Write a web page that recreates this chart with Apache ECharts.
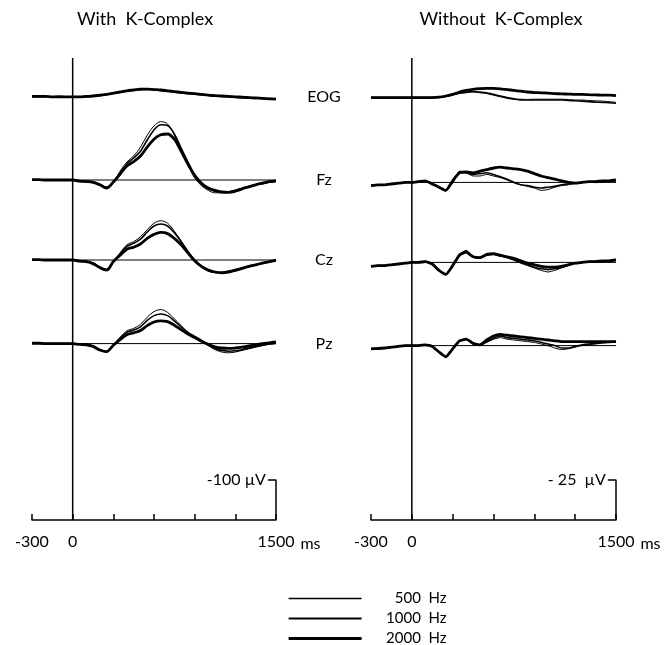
<!DOCTYPE html>
<html>
<head>
<meta charset="utf-8">
<script src="https://cdn.jsdelivr.net/npm/echarts@6/dist/echarts.min.js"></script>
<style>
  html, body { margin: 0; background: #fff; }
  #root { width: 669px; height: 645px; }
</style>
</head>
<body>
<div id="root"></div>
<script>
// time points, ms
const times = [-300, -250, -200, -150, -100, -50, 0, 50, 100, 150, 200, 250, 300, 350, 400, 450,
  500, 550, 600, 650, 700, 750, 800, 850, 900, 950, 1000, 1050, 1100, 1150, 1200, 1250, 1300,
  1350, 1400, 1450, 1500];
const xTicks = [-300, 0, 1500];
const channels = ['EOG', 'Fz', 'Cz', 'Pz'];
const freqs = ['500  Hz', '1000  Hz', '2000  Hz'];
const panelTitles = ['With  K-Complex', 'Without  K-Complex'];
const scaleBars = [100, 25]; // µV
const scaleLabels = ['-100 µV', '- 25  µV'];

// With K-Complex (µV, negative up); rows = 500, 1000, 2000 Hz
const withEOG = [
  [0, 0, -1, 0, 0, 0, 0, 0, 0, -1, -3, -5, -8, -11, -14, -16, -18, -18, -18, -17, -15, -13, -11, -9, -7, -6, -4, -3, -1, 0, 1, 2, 3, 3, 4, 4, 5],
  [0, -1, 0, 0, -1, 0, 0, 0, -1, -2, -3, -6, -9, -12, -15, -17, -18, -19, -18, -16, -14, -12, -10, -8, -7, -5, -4, -2, -1, 0, 1, 2, 2, 3, 4, 5, 5],
  [-1, -1, -1, 0, 0, 0, 0, 0, -1, -2, -4, -6, -9, -12, -15, -17, -19, -19, -18, -17, -15, -13, -11, -9, -8, -6, -4, -3, -2, -1, 0, 1, 2, 3, 4, 5, 6]
];
const withFz = [
  [0, 0, 0, 0, 0, 0, 0, 2, 3, 5, 10, 18, 6, -22, -45, -60, -82, -112, -135, -146, -140, -112, -72, -38, -5, 14, 26, 32, 32, 29, 25, 20, 16, 12, 9, 6, 4],
  [0, 0, 0, 0, 0, 0, 0, 2, 3, 5, 11, 19, 5, -18, -40, -55, -72, -100, -125, -138, -136, -115, -80, -45, -12, 10, 22, 28, 31, 30, 26, 21, 16, 12, 9, 5, 3],
  [-1, -1, 0, 0, 0, 0, 0, 3, 4, 6, 12, 20, 5, -15, -35, -46, -60, -82, -102, -113, -115, -102, -72, -40, -12, 8, 20, 26, 30, 31, 28, 22, 17, 12, 8, 4, 2]
];
const withCz = [
  [0, 0, 0, 0, 0, 0, 0, 2, 3, 8, 18, 24, 5, -18, -38, -46, -58, -76, -92, -98, -92, -72, -48, -22, 0, 18, 28, 31, 30, 27, 23, 19, 15, 11, 7, 4, 1],
  [0, 0, 0, 0, 0, 0, 0, 2, 3, 8, 18, 25, 4, -15, -34, -42, -52, -70, -85, -90, -85, -68, -46, -22, 0, 16, 26, 31, 32, 30, 26, 21, 16, 12, 8, 4, 1],
  [-1, -1, 0, 0, 0, 0, 0, 3, 4, 9, 19, 25, 4, -12, -27, -32, -40, -54, -64, -69, -66, -54, -38, -18, 2, 16, 25, 30, 32, 30, 26, 21, 16, 12, 8, 4, 1]
];
const withPz = [
  [0, 0, 0, 0, 0, 0, 0, 1, 2, 6, 15, 20, 4, -16, -32, -38, -48, -66, -80, -85, -78, -62, -45, -28, -16, -8, 5, 15, 21, 23, 21, 17, 13, 9, 5, 2, 0],
  [0, 0, 0, 0, 0, 0, 0, 1, 2, 6, 15, 20, 4, -13, -28, -34, -42, -58, -70, -74, -70, -57, -42, -28, -18, -8, 3, 12, 17, 19, 18, 15, 11, 7, 4, 1, -1],
  [-1, -1, 0, 0, 0, 0, 0, 2, 3, 7, 16, 20, 4, -10, -22, -27, -33, -45, -54, -57, -55, -46, -35, -24, -15, -6, 2, 8, 11, 12, 11, 9, 6, 3, 0, -2, -4]
];

// Without K-Complex (µV, negative up)
const withoutEOG = [
  [0, 0, 0, 0, 0, 0, 0, 0, 0, 0, 0, -0.5, -1.5, -2.5, -3, -3.5, -3, -2.5, -1.5, -0.5, 0.5, 1, 1, 1.2, 1, 1, 1, 1, 1, 1.2, 1.5, 1.5, 1.8, 2, 2.2, 2.5, 3],
  [0, 0, 0, 0, 0, 0, 0, 0, 0, 0, -0.3, -1, -2, -3, -3.5, -3.8, -3.5, -3, -2, -1, 0, 0.8, 1.5, 1.5, 1.5, 1.5, 1.5, 1.5, 1.5, 1.8, 2, 2.2, 2.5, 2.8, 3, 3.2, 3.5],
  [0, 0, 0, 0, 0, 0, 0, 0, 0, 0, -0.3, -1, -2, -3.5, -4.5, -5.2, -5.6, -5.8, -5.8, -5.5, -5, -4.5, -4, -3.5, -3.2, -3, -2.8, -2.5, -2.3, -2.2, -2, -2, -1.8, -1.7, -1.5, -1.5, -1.2]
];
const withoutFz = [
  [2, 1.5, 1.5, 1, 0.5, 0, 0, -0.5, -1, 1, 3, 5, 0, -7, -6, -4, -4, -5, -4, -3, -1.5, 0, 1.5, 2.5, 3.5, 5, 4.5, 3, 2, 1.5, 0.5, 0, 0, -0.5, -0.5, -1, -1],
  [2, 1.5, 1.5, 1, 0.5, 0, 0, -0.5, -1, 1, 3, 5, 0, -6.5, -6, -5, -5.5, -6, -5, -3.5, -2, 0, 1.5, 2, 3, 3.5, 3, 2.5, 1.5, 1, 0.5, 0, -0.5, 0, -0.5, -1, -1],
  [2, 1.5, 1.5, 1, 0.5, 0, 0, -0.5, -1, 1, 3, 5, -1, -6, -6.5, -6, -7, -8, -9, -9.5, -9, -8.5, -8, -7, -5.5, -4, -3, -2, -1, 0, 0.5, 0, -0.5, -0.5, -1, -1, -1.5]
];
const withoutCz = [
  [2.5, 2, 2, 1.5, 1, 0.5, 0, 0, -0.5, 1, 5, 7.5, 2, -5, -7.5, -3.5, -2.5, -4.5, -5, -4, -3, -1.5, 0.5, 2, 3.5, 5, 6, 5, 3.5, 2, 0.5, 0, 0, -0.5, -0.5, -1, -1.5],
  [2.5, 2, 2, 1.5, 1, 0.5, 0, 0, -0.5, 1, 5, 7.5, 2, -5, -7, -3.5, -3, -4.5, -5, -4, -3, -1.5, 0, 1.5, 3, 4, 4.5, 4, 3, 1.5, 0.5, 0, -0.5, -0.5, -0.5, -1, -1.5],
  [2.5, 2, 2, 1.5, 1, 0.5, 0, 0, -0.5, 1, 5, 7.5, 2, -4.5, -6.5, -3.5, -3, -5, -5.5, -4.5, -3.5, -2.5, -1, 0.5, 1.5, 2.5, 3, 3, 2.5, 1.5, 0.5, 0, -0.5, -0.5, -1, -1, -1.5]
];
const withoutPz = [
  [2, 1.8, 1.5, 1, 0.5, 0, 0, 0, -0.5, 0.5, 4, 7, 2, -3, -4, -1, 0, -2, -4, -5, -4, -3.5, -3, -2.5, -2, -1, 0, 1.5, 2.5, 2, 1, 0, -0.5, -1, -1.5, -2, -2.5],
  [2, 1.8, 1.5, 1, 0.5, 0, 0, 0, -0.5, 0.5, 4, 7, 2, -3, -4, -1, -0.5, -2.5, -4.5, -6, -5, -4.5, -4, -3.5, -3, -2, -1, 0, 1.5, 1.5, 0.5, -0.5, -1, -1.5, -2, -2, -2.5],
  [2, 1.8, 1.5, 1, 0.5, 0, 0, 0, -0.5, 0.5, 4, 7, 2, -3, -4, -1.5, -0.5, -3.5, -6, -7, -6.5, -6, -5.5, -5, -4.5, -4, -3.5, -3, -2.5, -2.5, -2.5, -2.5, -2.5, -2.5, -2.5, -2.5, -2.5]
];

const panelData = [
  [withEOG, withFz, withCz, withPz],
  [withoutEOG, withoutFz, withoutCz, withoutPz]
];

// layout: vertical stacking offsets (µV) and y range for each panel
const FONT = 'Lato';
const offsets = [[-1058, -850, -650, -441], [-264, -211, -161, -109]];
const yMins = [-1155, -288.75];
const grids = [
  { left: 32, top: 58, width: 244, height: 462 },
  { left: 371, top: 58, width: 245, height: 462 }
];
const widths = [1, 1.6, 2.8];

const series = [];
[0, 1].forEach(p => {
  // thick first so thinner lines stay visible on top
  [2, 1, 0].forEach(f => {
    channels.forEach((ch, c) => {
      series.push({
        type: 'line', name: freqs[f], xAxisIndex: p, yAxisIndex: p,
        data: times.map((t, k) => [t, offsets[p][c] + panelData[p][c][f][k]]),
        symbol: 'none', smooth: p === 0 ? 0.35 : 0.15,
        itemStyle: { color: '#000' },
        lineStyle: { color: '#000', width: widths[f] },
        silent: true, z: 3 + (2 - f)
      });
    });
  });
  // thin baselines
  [1, 2, 3].forEach(c => {
    series.push({
      type: 'line', xAxisIndex: p, yAxisIndex: p, symbol: 'none', silent: true, z: 2,
      data: [[0, offsets[p][c]], [1500, offsets[p][c]]],
      lineStyle: { color: '#000', width: 1 }
    });
  });
  // stimulus line at 0
  series.push({
    type: 'line', xAxisIndex: p, yAxisIndex: p, symbol: 'none', silent: true, z: 2,
    data: [[0, 0], [0, yMins[p]]],
    lineStyle: { color: '#000', width: 1.5 }
  });
  // calibration bar
  series.push({
    type: 'line', xAxisIndex: p, yAxisIndex: p, symbol: 'none', silent: true, z: 2,
    data: [[1440, -scaleBars[p]], [1500, -scaleBars[p]], [1500, 0]],
    lineStyle: { color: '#000', width: 1.5 }
  });
});

const chart = echarts.init(document.getElementById('root'), null, { renderer: 'canvas' });
chart.setOption({
  animation: false,
  backgroundColor: '#fff',
  grid: grids,
  xAxis: [0, 1].map(p => ({
    type: 'value', gridIndex: p, min: -300, max: 1500, interval: 300,
    axisLine: { show: true, lineStyle: { color: '#000', width: 1.5 } },
    axisTick: { show: true, inside: true, length: 6, lineStyle: { color: '#000', width: 1.5 } },
    axisLabel: {
      margin: 14, color: '#000', fontFamily: FONT, fontSize: 16,
      formatter: v => xTicks.includes(v) ? String(v) : ''
    },
    splitLine: { show: false },
    name: 'ms', nameLocation: 'end', nameGap: 2,
    nameTextStyle: { color: '#000', fontFamily: FONT, fontSize: 16, verticalAlign: 'top', padding: [16, 0, 0, 0] }
  })),
  yAxis: [0, 1].map(p => ({
    type: 'value', gridIndex: p, inverse: true, min: yMins[p], max: 0, show: false
  })),
  legend: {
    data: freqs.map((name, f) => ({ name: name, lineStyle: { color: '#000', width: widths[f] + 0.4 } })),
    orient: 'vertical', left: 287, top: 591, height: 70, padding: 0,
    itemWidth: 73, itemHeight: 12, itemGap: 5, selectedMode: false,
    itemStyle: { opacity: 0 },
    formatter: name => '{t|' + name + '}',
    textStyle: {
      color: '#000', fontFamily: FONT, fontSize: 15,
      rich: { t: { width: 80, align: 'right', fontFamily: FONT, fontSize: 15 } }
    }
  },
  series: series
});

// titles, channel labels, calibration labels
const graphic = [
  { type: 'text', x: 145, y: 19, style: { text: panelTitles[0], fill: '#000', font: '18px ' + FONT, align: 'center', verticalAlign: 'middle' } },
  { type: 'text', x: 501, y: 19, style: { text: panelTitles[1], fill: '#000', font: '18px ' + FONT, align: 'center', verticalAlign: 'middle' } }
];
channels.forEach((ch, c) => {
  const pt = chart.convertToPixel({ gridIndex: 0 }, [1500, offsets[0][c]]);
  graphic.push({ type: 'text', x: 324, y: pt[1], style: { text: ch, fill: '#000', font: '16px ' + FONT, align: 'center', verticalAlign: 'middle' } });
});
[0, 1].forEach(p => {
  const pt = chart.convertToPixel({ gridIndex: p }, [1440, -scaleBars[p]]);
  graphic.push({ type: 'text', x: pt[0] - 2, y: pt[1], style: { text: scaleLabels[p], fill: '#000', font: '16px ' + FONT, align: 'right', verticalAlign: 'middle' } });
});
chart.setOption({ graphic: graphic });
</script>
</body>
</html>
